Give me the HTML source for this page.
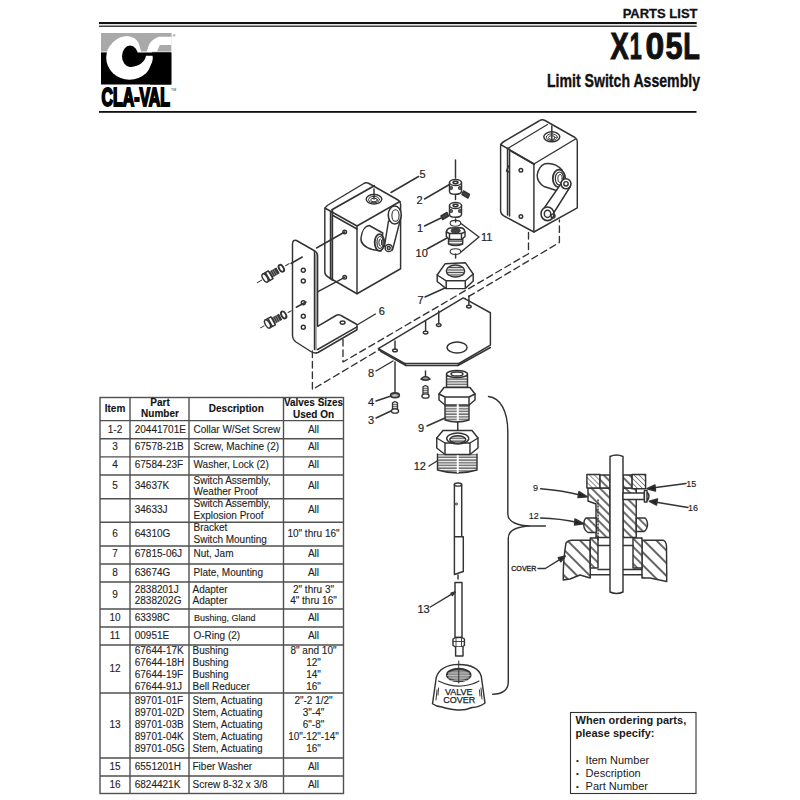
<!DOCTYPE html>
<html><head><meta charset="utf-8">
<style>
html,body{margin:0;padding:0;background:#fff;width:800px;height:800px;overflow:hidden}
svg{display:block}
text{font-family:"Liberation Sans",sans-serif}
</style></head>
<body>
<svg width="800" height="800" viewBox="0 0 800 800">
<rect width="800" height="800" fill="#fff"/>
<!-- HEADER -->
<g id="header" fill="#111">
<text x="697.5" y="18" font-size="13" font-weight="bold" text-anchor="end" stroke="#111" stroke-width="0.3">PARTS LIST</text>
<rect x="99" y="22" width="597.7" height="2.1"/>
<rect x="99" y="25.6" width="597.7" height="1.2"/>
<g font-size="37.8" font-weight="bold" stroke="#111" stroke-width="1.1"><text transform="matrix(0.72,0,0,1,610.6,0)" x="0" y="59">X</text><text transform="matrix(0.57,0,0,1,629.8,0)" x="0" y="59">1</text><text transform="matrix(0.89,0,0,1,645.5,0)" x="0" y="59">0</text><text transform="matrix(0.81,0,0,1,665.4,0)" x="0" y="59">5</text><text transform="matrix(0.72,0,0,1,683.3,0)" x="0" y="59">L</text></g>
<text x="547" y="87" font-size="17.7" font-weight="bold" textLength="153" lengthAdjust="spacingAndGlyphs" stroke="#111" stroke-width="0.35">Limit Switch Assembly</text>
<rect x="99" y="111" width="597.5" height="1.8"/>
</g>
<!-- LOGO -->
<g id="logo">
<rect x="101" y="33" width="70.3" height="18.55" fill="#a9a9a9"/>
<rect x="101" y="52.4" width="70.3" height="32.1" fill="#000"/>
<ellipse cx="129.5" cy="57.7" rx="23.3" ry="22" fill="#fff"/>
<path d="M155,55.7 H171.3 V84.5 H150 L148,71.5 Z" fill="#000"/>
<path d="M126,33 H171.3 V36.75 H159.2 C155,37.5 150,42 149.1,45 L146.9,51.55 H141 L139.3,45 C138,40 134,36.3 126,35.9 Z" fill="#a9a9a9"/>
<path d="M146.9,51.55 L149.1,45 C150,42 155,37.5 159.2,36.75 H171.3 V45.1 H159.8 L157,51.55 Z" fill="#fff"/>
<ellipse cx="130.1" cy="56.25" rx="8.1" ry="10.7" fill="#000"/>
<path d="M130,52.4 H171.3 V55.7 H146 C145,61.5 139.5,66.8 129,67 Z" fill="#000"/>
<text x="172.5" y="37" font-size="4" fill="#222">®</text>
</g>
<text x="101.5" y="105.8" font-size="25" font-weight="bold" textLength="68.5" lengthAdjust="spacingAndGlyphs" fill="#000" stroke="#000" stroke-width="2">CLA-VAL</text>
<text x="171" y="91" font-size="3.5" fill="#333">TM</text>
<!-- TABLE -->
<g id="table" stroke="#505050" stroke-width="1.4" fill="none">
<rect x="100" y="397.5" width="243.5" height="396"/>
<line x1="130" y1="397.5" x2="130" y2="793.5"/>
<line x1="189" y1="397.5" x2="189" y2="793.5"/>
<line x1="283.5" y1="397.5" x2="283.5" y2="793.5"/>
<path d="M100 420.6H343.5M100 438.75H343.5M100 456.9H343.5M100 475H343.5M100 498.75H343.5M100 522.25H343.5M100 546H343.5M100 564H343.5M100 582H343.5M100 609H343.5M100 627H343.5M100 645H343.5M100 693H343.5M100 758H343.5M100 776H343.5"/>
</g>
<g id="tabletext" fill="#1e1e1e" font-size="10" stroke="#1e1e1e" stroke-width="0.12">
<g font-weight="bold" text-anchor="middle" fill="#111">
<text x="115" y="412.25">Item</text>
<text x="160" y="406">Part</text>
<text x="160" y="417.25">Number</text>
<text x="236.3" y="412">Description</text>
<text x="313.5" y="406.25" textLength="59" lengthAdjust="spacingAndGlyphs">Valves Sizes</text>
<text x="313.5" y="417.5">Used On</text>
</g>
<g text-anchor="middle">
<text x="115" y="432.5">1-2</text>
<text x="115" y="450">3</text>
<text x="115" y="468">4</text>
<text x="115" y="489">5</text>
<text x="115" y="536.5">6</text>
<text x="115" y="557">7</text>
<text x="115" y="575.6">8</text>
<text x="115" y="598">9</text>
<text x="115" y="620.6">10</text>
<text x="115" y="638.75">11</text>
<text x="115" y="671.6">12</text>
<text x="115" y="728.4">13</text>
<text x="115" y="770">15</text>
<text x="115" y="787.6">16</text>
</g>
<g>
<text x="134.75" y="432.5">20441701E</text>
<text x="134.75" y="450">67578-21B</text>
<text x="134.75" y="468">67584-23F</text>
<text x="134.75" y="489">34637K</text>
<text x="134.75" y="512.5">34633J</text>
<text x="134.75" y="536.5">64310G</text>
<text x="134.75" y="557">67815-06J</text>
<text x="134.75" y="575.6">63674G</text>
<text x="134.75" y="592.5">2838201J</text>
<text x="134.75" y="603.75">2838202G</text>
<text x="134.75" y="620.6">63398C</text>
<text x="134.75" y="638.75">00951E</text>
<text x="134.75" y="653.6">67644-17K</text>
<text x="134.75" y="665.6">67644-18H</text>
<text x="134.75" y="678">67644-19F</text>
<text x="134.75" y="689.6">67644-91J</text>
<text x="134.75" y="704">89701-01F</text>
<text x="134.75" y="716">89701-02D</text>
<text x="134.75" y="728.4">89701-03B</text>
<text x="134.75" y="740">89701-04K</text>
<text x="134.75" y="751.6">89701-05G</text>
<text x="134.75" y="770">6551201H</text>
<text x="134.75" y="787.6">6824421K</text>
</g>
<g>
<text x="193.5" y="432.5">Collar W/Set Screw</text>
<text x="193.5" y="450">Screw, Machine (2)</text>
<text x="193.5" y="468">Washer, Lock (2)</text>
<text x="193.5" y="484">Switch Assembly,</text>
<text x="193.5" y="495.3">Weather Proof</text>
<text x="193.5" y="507">Switch Assembly,</text>
<text x="193.5" y="518.9">Explosion Proof</text>
<text x="193.5" y="530.6">Bracket</text>
<text x="193.5" y="543">Switch Mounting</text>
<text x="193.5" y="557">Nut, Jam</text>
<text x="193.5" y="575.6">Plate, Mounting</text>
<text x="192.5" y="592.5">Adapter</text>
<text x="192.5" y="603.75">Adapter</text>
<text x="194" y="620.6" font-size="9">Bushing, Gland</text>
<text x="193.5" y="638.75">O-Ring (2)</text>
<text x="192.5" y="653.6">Bushing</text>
<text x="192.5" y="665.6">Bushing</text>
<text x="192.5" y="678">Bushing</text>
<text x="192.5" y="689.6">Bell Reducer</text>
<text x="192.5" y="704">Stem, Actuating</text>
<text x="192.5" y="716">Stem, Actuating</text>
<text x="192.5" y="728.4">Stem, Actuating</text>
<text x="192.5" y="740">Stem, Actuating</text>
<text x="192.5" y="751.6">Stem, Actuating</text>
<text x="192.5" y="770">Fiber Washer</text>
<text x="192.5" y="787.6">Screw 8-32 x 3/8</text>
</g>
<g text-anchor="middle">
<text x="313.5" y="432.5">All</text>
<text x="313.5" y="450">All</text>
<text x="313.5" y="468">All</text>
<text x="313.5" y="489">All</text>
<text x="313.5" y="512.5">All</text>
<text x="313.5" y="536.5">10" thru 16"</text>
<text x="313.5" y="557">All</text>
<text x="313.5" y="575.6">All</text>
<text x="313.5" y="592.5">2" thru 3"</text>
<text x="313.5" y="603.75">4" thru 16"</text>
<text x="313.5" y="620.6">All</text>
<text x="313.5" y="638.75">All</text>
<text x="313.5" y="653.6">8" and 10"</text>
<text x="313.5" y="665.6">12"</text>
<text x="313.5" y="678">14"</text>
<text x="313.5" y="689.6">16"</text>
<text x="313.5" y="704">2"-2 1/2"</text>
<text x="313.5" y="716">3"-4"</text>
<text x="313.5" y="728.4">6"-8"</text>
<text x="313.5" y="740">10"-12"-14"</text>
<text x="313.5" y="751.6">16"</text>
<text x="313.5" y="770">All</text>
<text x="313.5" y="787.6">All</text>
</g>
</g>

<!-- ORDER BOX -->
<rect x="570.5" y="712.5" width="125.5" height="81" fill="none" stroke="#333" stroke-width="1.1"/>
<g fill="#1a1a1a">
<text x="575.6" y="723.6" font-size="11" font-weight="bold">When ordering parts,</text>
<text x="575.6" y="737" font-size="11" font-weight="bold">please specify:</text>
<text x="576" y="763" font-size="8">•</text>
<text x="576" y="776.4" font-size="8">•</text>
<text x="576" y="789.4" font-size="8">•</text>
<text x="585.6" y="763.6" font-size="11">Item Number</text>
<text x="585.6" y="777" font-size="11">Description</text>
<text x="585.6" y="790" font-size="11">Part Number</text>
</g>

<!-- DIAGRAM -->
<defs>
<pattern id="hatch" patternUnits="userSpaceOnUse" width="6" height="6" patternTransform="rotate(-45)">
<rect width="6" height="6" fill="#fff"/>
<line x1="1" y1="0" x2="1" y2="6" stroke="#222" stroke-width="1.3"/>
</pattern>
<pattern id="hatchC" patternUnits="userSpaceOnUse" width="9" height="9" patternTransform="rotate(-45)">
<rect width="9" height="9" fill="#fff"/>
<line x1="1" y1="0" x2="1" y2="9" stroke="#222" stroke-width="1.4"/>
</pattern>
<pattern id="hatch2" patternUnits="userSpaceOnUse" width="3.5" height="3.5" patternTransform="rotate(-45)">
<rect width="4" height="4" fill="#fff"/>
<line x1="0" y1="0" x2="0" y2="4" stroke="#222" stroke-width="1"/>
</pattern>
<pattern id="thread" patternUnits="userSpaceOnUse" width="4" height="2.7">
<rect width="4" height="2.7" fill="#fff"/>
<line x1="0" y1="1" x2="4" y2="1" stroke="#2a2a2a" stroke-width="1.05"/>
</pattern>
</defs>
<g id="diagram" fill="none" stroke="#333" stroke-width="1.45" stroke-linejoin="round" stroke-linecap="round">

<!-- LEFT SWITCH BOX (5) -->
<path d="M328 205 L363 184 Q366 182 369 183.5 L398 200 Q400.6 201.5 400.6 204 L400.6 268.75 L357 293.75 L328 277 Q324.8 275 324.8 272 L324.8 210 Q324.8 207 328 205 Z" fill="#fff"/>
<path d="M324.8 208 L357 226 L400 201.5"/>
<path d="M357 226 V293.75"/>
<path d="M330.5 212 V279"/>
<path d="M332.3 210 V280" stroke-width="1.8"/>
<path d="M332.3 209.5 L374.3 185.8" stroke-width="1.8"/>
<path d="M333 215.5 L357 229"/>
<circle cx="344.7" cy="232" r="1.8"/>
<circle cx="344.7" cy="277.3" r="1.8"/>
<ellipse cx="374" cy="199.2" rx="7.8" ry="4.7"/>
<ellipse cx="374" cy="199.6" rx="5.5" ry="3.2" stroke-width="1"/>
<ellipse cx="374" cy="200" rx="3.3" ry="1.8" stroke-width="1"/>
<path d="M374 189 V199"/>
<path d="M369.25 225.5 L382.75 233 L381 251 L372.25 249.5 C364 247 360.5 243 361 238 C361.8 231 365 226 369.25 225.5 Z" fill="#fff"/>
<ellipse cx="379.5" cy="242.5" rx="4.8" ry="8.3" stroke-width="1.8" fill="#fff"/>
<ellipse cx="380" cy="242.5" rx="3" ry="6" stroke-width="1.2"/>
<ellipse cx="380.3" cy="242.5" rx="1.4" ry="3.5" stroke-width="1"/>
<path d="M388.5 221 L384.5 246 L392.5 250 L400 221 Z" fill="#fff"/>
<ellipse cx="394.75" cy="215" rx="6.5" ry="9" fill="#fff" stroke-width="1.6"/>
<ellipse cx="395.5" cy="215.5" rx="3.6" ry="5.8" stroke-width="1.1"/>
<circle cx="388.75" cy="248" r="3.6" fill="#fff"/>
<circle cx="388.75" cy="248" r="1.5"/>
<path d="M344.7 232 L316.5 248"/>
<path d="M344.7 277.3 L316.5 292.3"/>

<!-- BRACKET (6) -->
<path d="M292.5 244 Q292.5 239.5 296.5 240.5 L314 250.5 Q317.6 252.5 317.6 256 L317.6 326.3 L336 315.5 Q338.5 314 341 315.5 L357 324.5 V329.75 L318 352.5 Q314 354 310 351 L296 342 Q292.5 339.5 292.5 335 Z" fill="#fff"/>
<path d="M314.5 251.5 V349.5"/><path d="M316 254 V350" stroke-width="0.8"/>
<path d="M317.6 349.5 L357 326.8"/>
<ellipse cx="342.6" cy="322.6" rx="2.4" ry="1.6"/>
<circle cx="303.3" cy="270.2" r="2"/>
<circle cx="303.3" cy="281" r="2"/>
<circle cx="303.3" cy="302.75" r="2"/>
<circle cx="303.3" cy="316.25" r="2"/>
<circle cx="303.3" cy="327.2" r="2"/>
<path d="M302.25 257 L291 263.5"/>

<path d="M306 302 L296.25 307.25"/>

<!-- screws -->
<g transform="translate(268.5,276) rotate(-31)">
<rect x="2" y="-2.9" width="8.5" height="5.8" fill="#3a3a3a" stroke-width="1"/>
<path d="M4 -3 V3 M6 -3 V3 M8 -3 V3" stroke="#999" stroke-width="0.7"/>
<path d="M-4 -4.6 H2.5 V4.6 H-4" fill="#fff"/>
<ellipse cx="-4" cy="0" rx="2.2" ry="4.6" fill="#fff"/>
<path d="M-1 -4.4 V4.4"/>
<ellipse cx="15" cy="0" rx="2.2" ry="3.8" stroke-width="1.9" fill="#fff"/>
<path d="M-13 0 H-8 M20 0 H24" stroke-width="1"/>
</g>
<g transform="translate(271,322) rotate(-29)">
<rect x="2" y="-2.9" width="8.5" height="5.8" fill="#3a3a3a" stroke-width="1"/>
<path d="M4 -3 V3 M6 -3 V3 M8 -3 V3" stroke="#999" stroke-width="0.7"/>
<path d="M-4 -4.6 H2.5 V4.6 H-4" fill="#fff"/>
<ellipse cx="-4" cy="0" rx="2.2" ry="4.6" fill="#fff"/>
<path d="M-1 -4.4 V4.4"/>
<ellipse cx="14.5" cy="0" rx="2.2" ry="3.8" stroke-width="1.9" fill="#fff"/>
<path d="M-12 0 H-8 M19.5 0 H23" stroke-width="1"/>
</g>

<!-- dashed alignment lines -->
<g stroke-dasharray="6.5 4" stroke-width="1.35">
<path d="M312.4 351 V389.5 L559.4 242.5 V220"/>
<path d="M343 339.5 V362 L528.5 253.75 V230.6"/>
</g>

<!-- RIGHT SWITCH BOX -->
<path d="M504 141.5 L539 121 Q542 119 545 120.5 L575 137.5 Q577.3 139 577.3 141.5 L577.3 207.8 L533.9 232 L504 216 Q500.6 214 500.6 211 L500.6 146 Q500.6 143.3 504 141.5 Z" fill="#fff"/>
<path d="M500.6 144.5 L533.9 164 L575.5 139"/>
<path d="M533.9 164 V232"/>
<path d="M507.5 148 V215"/>
<path d="M509.5 149 V216" stroke-width="1.6"/>
<path d="M508.5 148 L547.5 124.5" stroke-width="1.2"/>
<path d="M511 151 L533.9 164" stroke-width="2"/>
<circle cx="520.9" cy="170.2" r="1.8"/>
<circle cx="520.9" cy="216.5" r="1.8"/>
<path d="M508.5 166 L506.5 171 L508.5 172" stroke-width="1.5"/>
<ellipse cx="551.8" cy="136.8" rx="8" ry="5"/>
<ellipse cx="551.8" cy="137.2" rx="5.5" ry="3.3" stroke-width="1"/>
<ellipse cx="551.8" cy="137.6" rx="3.3" ry="1.9" stroke-width="1"/>
<path d="M551.8 126 V140"/>
<path d="M545 163.7 Q555 162 562 170 L566 186 L558 191 L544 186.5 Q537 182 537.2 175 Q538.5 166.5 545 163.7 Z" fill="#fff"/>
<ellipse cx="559" cy="178.5" rx="6.2" ry="8.8" stroke-width="1.8" fill="#fff"/>
<ellipse cx="559.5" cy="178.5" rx="4.2" ry="6.5" stroke-width="1.2"/>
<ellipse cx="560" cy="178.5" rx="2.2" ry="4" stroke-width="1"/>
<path d="M562.5 181.5 L542.5 210.5 L550.5 218 L570 187 Z" fill="#fff"/>
<circle cx="566" cy="183.8" r="5" fill="#fff" stroke-width="1.6"/>
<circle cx="566" cy="183.8" r="2.2"/>
<ellipse cx="547.5" cy="213.8" rx="6.5" ry="6.8" fill="#fff" stroke-width="1.6"/>
<ellipse cx="547.5" cy="213.8" rx="3.2" ry="3.6"/>
<circle cx="553" cy="216" r="2"/>

<!-- CENTER COLUMN PARTS -->
<path d="M455.5 160 V178"/>
<path d="M449.5 182.5 V191.5 A6 2.8 0 0 0 461.5 191.5 V182.5" fill="#fff"/>
<ellipse cx="455.5" cy="182.5" rx="6" ry="3" fill="#fff"/>
<ellipse cx="455.5" cy="182.5" rx="2.5" ry="1.2"/>
<circle cx="451" cy="188" r="1.3"/>
<circle cx="460" cy="188" r="1.3"/>
<path d="M463.5 191 L469.5 194.5 L468 198 L462 194.5 Z" fill="#444"/>
<path d="M455.5 195 V199.5"/>
<path d="M449.5 205.5 V214.5 A6 2.8 0 0 0 461.5 214.5 V205.5" fill="#fff"/>
<ellipse cx="455.5" cy="205.5" rx="6" ry="3" fill="#fff"/>
<ellipse cx="455.5" cy="205.5" rx="2.5" ry="1.2"/>
<circle cx="451" cy="211" r="1.3"/>
<circle cx="460" cy="211" r="1.3"/>
<path d="M441 216 L447 212.5 L448.5 216 L442.5 219.5 Z" fill="#444"/>
<ellipse cx="455.4" cy="223.3" rx="5.3" ry="2.9" stroke-width="1.1"/>
<path d="M455.6 219 V222"/>
<!-- bushing 10 -->
<path d="M448.5 237 V244 Q455.6 247 462.7 244 V237" fill="url(#thread)"/>
<path d="M446.3 232 Q447 228.5 450 228 L461 227.8 Q464.5 228.5 465 232 V236.5 L461.5 239.5 L449.5 239.5 L446.3 236.5 Z" fill="#fff"/>
<path d="M449.5 239.5 V233.5 M461.5 239.5 V233.5 M446.3 232 L449.5 233.5 L461.5 233.5 L465 232"/>
<ellipse cx="455.6" cy="230.8" rx="4.5" ry="2.2" fill="#444" stroke-width="1"/>
<ellipse cx="455.4" cy="251.6" rx="5.3" ry="2.9" stroke-width="1.1"/>
<path d="M455.6 254 V258"/>
<!-- nut 7 -->
<path d="M437.2 275 L445 263.8 L465.3 262.7 L473.2 274 V281 L465.3 288.6 L446.2 288.6 L437.2 281.5 Z" fill="#fff"/>
<path d="M437.2 275 L446.2 280.8 L465.3 280.8 L473.2 274 M446.2 280.8 V288.6 M465.3 280.8 V288.6"/>
<ellipse cx="455.5" cy="271" rx="9.2" ry="6" fill="#ddd" stroke-width="1.4"/>
<path d="M448 267.5 H463 M446.8 270 H464.2 M446.8 272.5 H464.2 M448 275 H463" stroke="#444" stroke-width="0.9"/>
<!-- PLATE 8 -->
<path d="M378.4 348.6 L463.25 297.9 L490.4 312.75 V345.1 L458.9 363.5 H404.6 Z" fill="#fff"/>
<path d="M378.4 348.6 L381 351.5 L406 365.5 H458 L490.4 347.5"/>
<path d="M404.6 363.5 L406 365.5 M458.9 363.5 L458 365.5"/>
<ellipse cx="457.1" cy="347.4" rx="10" ry="5.5"/>
<ellipse cx="468.9" cy="306.6" rx="2.3" ry="1.4"/>
<ellipse cx="438.75" cy="325" rx="2.3" ry="1.4"/>
<ellipse cx="425.6" cy="332.5" rx="2.3" ry="1.4"/>
<ellipse cx="395" cy="350.4" rx="2.3" ry="1.4"/>
<path d="M468.9 296 V305 M438.75 311 V324 M425.6 321 V331 M395 341 V349"/>
<path d="M395 362 V392"/>

<!-- screws 3,4 -->
<ellipse cx="395" cy="395.3" rx="4.3" ry="2.4" fill="#bbb" stroke-width="1.7"/>
<path d="M392.7 394.5 Q395 391.5 397.3 394.5" stroke-width="1"/>
<path d="M392.5 410.5 V403 Q395 400.2 397.5 403 V410.5" fill="#ddd" stroke-width="1.3"/>
<path d="M393 404.5 H397 M393 406.5 H397 M393 408.5 H397" stroke-width="0.6"/>
<ellipse cx="395" cy="411" rx="3.6" ry="2.2" fill="#fff" stroke-width="1.3"/>
<path d="M421 379 Q425.5 374 430 379 Q425.5 381.5 421 379 Z" fill="#999" stroke-width="1.5"/>
<path d="M425.5 371 V376"/>
<path d="M423 395.5 V387 Q425.5 384.2 428 387 V395.5" fill="#ddd" stroke-width="1.3"/>
<path d="M423.5 388.5 H427.5 M423.5 390.5 H427.5 M423.5 392.5 H427.5" stroke-width="0.6"/>
<ellipse cx="425.5" cy="396" rx="3.6" ry="2.2" fill="#fff" stroke-width="1.3"/>

<!-- ADAPTER 9 -->
<path d="M446.5 375 V390 H467.5 V375" fill="url(#thread)"/>
<ellipse cx="457" cy="374" rx="10.5" ry="3.5" fill="#fff"/>
<ellipse cx="457" cy="374" rx="6" ry="2"/>
<path d="M445 404 V420 Q457 424 469 420 V404" fill="url(#thread)"/>
<path d="M439 394 L444 387.5 L470 387.5 L475 394 V400 L469 405 L445 405 L439 400 Z" fill="#fff"/>
<path d="M439 394 L445 397 L469 397 L475 394 M445 397 V405 M469 397 V405"/>
<path d="M457.75 422 V430"/>
<path d="M457.75 405 V420" stroke="#fff" stroke-width="2"/>

<!-- BUSHING 12 -->
<path d="M437.5 454 V470 Q457.5 476 477 470 V454" fill="url(#thread)"/>
<path d="M436.75 438 L443 430.5 L472 430.5 L478 438 V448 L470 454.5 L445 454.5 L436.75 448 Z" fill="#fff"/>
<path d="M436.75 438 L445 443 L470 443 L478 438 M445 443 V454.5 M470 443 V454.5"/>
<ellipse cx="457.75" cy="438.5" rx="11" ry="5.5"/>
<ellipse cx="457.75" cy="439.5" rx="8" ry="3.8" fill="url(#thread)"/>
<path d="M457.75 456 V472" stroke="#fff" stroke-width="2"/>

<!-- STEM 13 -->
<path d="M454.4 484.5 V536.7 H463.3 V571.5 L454.4 574.5 V536.7 M461.7 484.5 V536.7" fill="#fff"/>
<ellipse cx="458" cy="484.5" rx="3.65" ry="1.6" fill="#fff"/>
<circle cx="456.3" cy="504" r="1" stroke-width="0.9"/>
<path d="M455 582.5 H462 V637.5 H455 Z" fill="#fff"/>
<path d="M458 575 V579"/>
<path d="M453 639 L455.5 637.5 H462 L464.4 639 V645.5 L462 647 H455.5 L453 645.5 Z" fill="#fff"/><path d="M456 637.5 V647 M461.5 637.5 V647 M453 641.5 H464.4" stroke-width="0.9"/>
<path d="M455.6 647 V656 H463 V647" fill="#fff"/>


<!-- VALVE COVER -->
<path d="M436.25 677.5 Q440 665 458.75 664.4 Q478 664.5 481.25 676.25 L485 703 Q480 707 472 707.5 Q465 710.5 457.5 710 Q448 709 442 707 Q436 706.5 432.5 703.75 Z" fill="#fff"/>
<path d="M438.5 681 Q452 687.5 464 685.8 Q473 684.5 479 681" stroke-width="1.1"/>
<path d="M437 690 L436 700 M438.5 688 L438 695 M481 688 L482 699 M479.5 690 L480 696" stroke-width="1"/>
<ellipse cx="458.75" cy="675" rx="11.9" ry="6.25" fill="#8a8a8a" stroke-width="1.8"/>
<path d="M448.5 673 H469 M447.5 675.5 H470 M448.5 678 H469 M451 680.3 H466.5" stroke="#ccc" stroke-width="0.8"/>
<path d="M458.75 661 V683" stroke-width="1"/>
<!-- BIG BRACE -->
<path d="M488.5,396.5 C500,398 507.8,410 507.8,432 V514 C507.8,522 518,526 531,526 H545.4 M531,526 C518,526.5 508.3,530 508.3,538 V682 C508.3,690 502,694.3 492.75,694.3"/>

<!-- CROSS SECTION -->
<path d="M563.25 580 Q563 560 566 543 Q568 540.25 572 540.25 H590.25 V578 L580 575 L570 579 Z" fill="url(#hatchC)"/>
<path d="M642 540.25 H663 Q666 541 666.5 546 L666.75 581.5 L650 578 L642 578 Z" fill="url(#hatchC)"/>
<path d="M588 488 H610 V537.5 H596 V504 L588 501 Z" fill="url(#hatch)"/>
<path d="M623 488 H636.25 V537.5 H623 Z" fill="url(#hatch)"/>
<path d="M586.9 474.4 H600 V488 H586.9 Z" fill="url(#hatch2)"/>
<path d="M600 475 H610 V488 H600 Z" fill="url(#hatch)"/>
<path d="M631.9 474.4 H645.6 V488.75 H631.9 Z" fill="url(#hatch2)"/>
<path d="M623 475 H631.9 V488 H623 Z" fill="url(#hatch)"/>
<path d="M596.25 518 H586 Q583.75 520 583.75 525 Q584 530 588 532.5 H596.25 Z" fill="url(#hatch)"/>
<path d="M636.25 518 H645 Q647.5 520 647.5 525 Q647 530 644 531.5 H636.25 Z" fill="url(#hatch)"/>
<path d="M590.25 538 H598 V568 H590.25 Z" fill="url(#hatch)"/>
<path d="M633 538 H642 V568 H633 Z" fill="url(#hatch)"/>
<path d="M598 545.5 H610 M623 545.5 H633 M598 569.5 H610 M623 569.5 H642 M590.25 574.75 H642"/>
<path d="M610 456.5 Q616.5 453.5 623 456.5 V592 Q616.5 595 610 592 Z" fill="#fff"/>
<path d="M623 493 H644.4 V499.4 H623 Z" fill="#fff"/>
<path d="M644.4 490.5 H647 V502 H644.4 Z M647 492 Q651 496 647 501" fill="#fff"/>
<path d="M598 500 V540" stroke-dasharray="1 2"/>

<!-- leader arrows section -->
<path d="M540.6 488.75 Q560 490 582 495.5"/>
<path d="M587.5 496.9 L579 491.5 L578 497.5 Z" fill="#222"/>
<path d="M540.6 518 Q560 518.5 578 522.5"/>
<path d="M583.75 523.75 L575 519 L574.5 525 Z" fill="#222"/>
<path d="M686 483.5 L652 488"/>
<path d="M646.9 488.75 L655 485 L655.5 491 Z" fill="#222"/>
<path d="M688 507.5 L655 502"/>
<path d="M649.4 501.25 L657.5 499 L656.5 505 Z" fill="#222"/>
<path d="M538 568.5 H545.3 L560 559.3"/>
<path d="M565.4 556 L558.2 557.6 L560.8 561.8 Z" fill="#222"/>

<!-- LEADERS main -->
<path d="M418.5 176.5 L391 192.5"/>
<path d="M424.5 199 L449.5 184.5"/>
<path d="M424.5 226 L441 218"/>
<path d="M427 249 L447 238"/>
<path d="M479 237 L461 223.5 M479 237 L461 252"/>
<path d="M425 297 L445 288"/>
<path d="M357.9 324.5 L375.4 314"/>
<path d="M376 371 L393 361"/>
<path d="M376 401 L391 396"/>
<path d="M376 418 L391 411"/>
<path d="M427 426 L445 418"/>
<path d="M429 466 L437 461"/>
<path d="M430.3 607 L455 592.2"/>
<path d="M455 592 L451 593.2 L452.3 595.5 Z" fill="#222"/>
</g>

<g fill="#1e1e1e" font-size="11" stroke="#1e1e1e" stroke-width="0.2">
<text x="419.5" y="178">5</text>
<text x="416.5" y="204">2</text>
<text x="420" y="232" text-anchor="middle">1</text>
<text x="415.6" y="256.5">10</text>
<text x="481" y="240.6">11</text>
<text x="417.5" y="304.4">7</text>
<text x="378.75" y="314.5">6</text>
<text x="368" y="377">8</text>
<text x="368" y="406">4</text>
<text x="368" y="423.5">3</text>
<text x="418" y="432">9</text>
<text x="413.75" y="470">12</text>
<text x="417.5" y="613">13</text>
</g>
<g fill="#1e1e1e" font-size="9" stroke="#1e1e1e" stroke-width="0.15">
<text x="533" y="490.6">9</text>
<text x="528.75" y="518.75">12</text>
<text x="686.25" y="486.9">15</text>
<text x="688" y="511.25">16</text>
<text x="511.25" y="571.3" font-size="7.1" stroke="#1e1e1e" stroke-width="0.3">COVER</text>
<text x="458.75" y="695.3" font-size="9" text-anchor="middle" stroke="#1e1e1e" stroke-width="0.25">VALVE</text>
<text x="459.3" y="703.3" font-size="9" text-anchor="middle" stroke="#1e1e1e" stroke-width="0.25">COVER</text>
</g>
</svg>
</body></html>
